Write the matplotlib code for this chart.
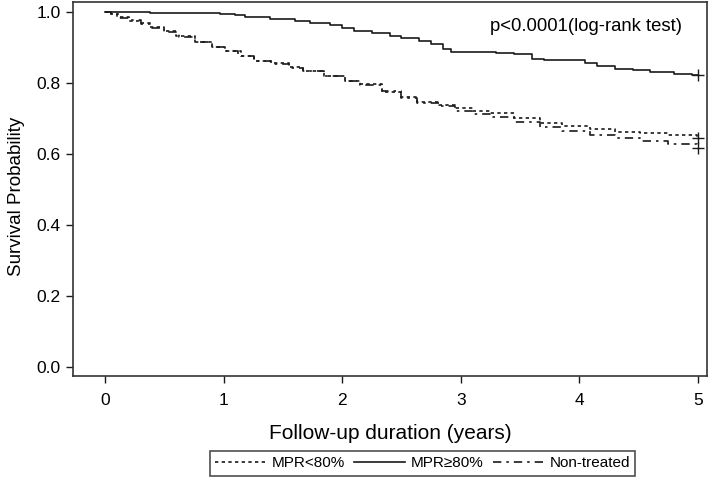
import matplotlib
matplotlib.use("Agg")
import matplotlib.pyplot as plt

plt.rcParams['font.family'] = ['Liberation Sans', 'DejaVu Sans']

# ---------------------------------------------------------------------------- #
#                                     DATA                                     #
# ---------------------------------------------------------------------------- #

# MPR>=80% (solid)
t_high = [0, 0.38, 0.97, 1.10, 1.18, 1.39, 1.60, 1.73, 1.90, 2.00, 2.10, 2.25, 2.40,
          2.50, 2.65, 2.75, 2.85, 2.92, 3.30, 3.45, 3.60, 3.70, 4.05, 4.15, 4.30,
          4.45, 4.60, 4.80, 4.95, 5.0]
s_high = [1.0, 0.998, 0.995, 0.990, 0.986, 0.980, 0.975, 0.970, 0.963, 0.955, 0.946,
          0.940, 0.932, 0.926, 0.918, 0.910, 0.895, 0.887, 0.884, 0.880, 0.868, 0.864,
          0.856, 0.848, 0.840, 0.836, 0.831, 0.826, 0.822, 0.822]

# MPR<80% (dotted)
t_low = [0, 0.05, 0.10, 0.20, 0.29, 0.38, 0.50, 0.60, 0.76, 0.90, 1.01, 1.15, 1.26,
         1.40, 1.55, 1.67, 1.85, 2.02, 2.15, 2.34, 2.50, 2.63, 2.82, 2.95, 3.10,
         3.25, 3.45, 3.67, 3.85, 4.09, 4.30, 4.51, 4.75, 4.99, 5.0]
s_low = [1.0, 0.995, 0.985, 0.975, 0.968, 0.958, 0.945, 0.932, 0.915, 0.900, 0.890,
         0.875, 0.862, 0.855, 0.845, 0.834, 0.820, 0.806, 0.797, 0.775, 0.760, 0.746,
         0.738, 0.728, 0.720, 0.714, 0.700, 0.688, 0.678, 0.670, 0.663, 0.658, 0.652,
         0.645, 0.645]

# Non-treated (dash-dot)
t_none = [0, 0.05, 0.12, 0.20, 0.30, 0.40, 0.50, 0.62, 0.76, 0.90, 1.01, 1.12, 1.26,
          1.40, 1.55, 1.67, 1.85, 2.02, 2.15, 2.34, 2.50, 2.63, 2.82, 2.95, 3.10,
          3.25, 3.45, 3.67, 3.85, 4.09, 4.30, 4.51, 4.75, 4.99, 5.0]
s_none = [1.0, 0.993, 0.984, 0.976, 0.966, 0.955, 0.944, 0.930, 0.915, 0.901, 0.889,
          0.877, 0.863, 0.853, 0.843, 0.833, 0.819, 0.805, 0.795, 0.776, 0.758, 0.744,
          0.735, 0.722, 0.712, 0.703, 0.690, 0.677, 0.665, 0.653, 0.644, 0.636, 0.628,
          0.617, 0.617]

labels = ["MPR<80%", "MPR\u226580%", "Non-treated"]
xticks = [0, 1, 2, 3, 4, 5]
yticks = [0.0, 0.2, 0.4, 0.6, 0.8, 1.0]

# ---------------------------------------------------------------------------- #
#                                     PLOT                                     #
# ---------------------------------------------------------------------------- #

fig = plt.figure(figsize=(7.09, 4.79), dpi=100)
ax = fig.add_axes([0.103, 0.215, 0.894, 0.781])

col = "#1a1a1a"
styles = [(0, (2, 2)), "-", (0, (5, 3, 1.5, 3))]
series = [(t_low, s_low), (t_high, s_high), (t_none, s_none)]

handles = []
for (t, s), ls, lab in zip(series, styles, labels):
    h, = ax.plot(t, s, drawstyle="steps-post", color=col, lw=1.2, linestyle=ls, label=lab)
    ax.plot(t[-1], s[-1], marker="+", color=col, ms=8, mew=1.0)
    handles.append(h)

ax.set_xlim(-0.27, 5.076)
ax.set_ylim(-0.025, 1.028)
ax.set_xticks(xticks)
ax.set_yticks(yticks)
ax.set_xticklabels([str(x) for x in xticks])
ax.set_yticklabels([f"{y:.1f}" for y in yticks])
ax.tick_params(direction="out", length=5, width=1.0, color=col, labelsize=12.5)
ax.tick_params(axis="x", pad=7)
ax.tick_params(axis="y", pad=4)
for sp in ax.spines.values():
    sp.set_color("#333333")
    sp.set_linewidth(1.2)

ax.set_xlabel("Follow-up duration (years)", fontsize=15, labelpad=12)
ax.set_ylabel("Survival Probability", fontsize=13.5)
ax.yaxis.set_label_coords(-0.076, 0.479)

ax.text(4.87, 0.958, "p<0.0001(log-rank test)", ha="right", va="center", fontsize=13.3)

leg = fig.legend(handles=handles, loc="center", bbox_to_anchor=(0.596, 0.033), ncol=3,
                 fontsize=11, frameon=True, fancybox=False, handlelength=3.3,
                 handletextpad=0.4, columnspacing=0.6, borderpad=0.35)
leg.get_frame().set_edgecolor("#222222")
leg.get_frame().set_linewidth(1.2)

fig.savefig("out.png", dpi=100)
